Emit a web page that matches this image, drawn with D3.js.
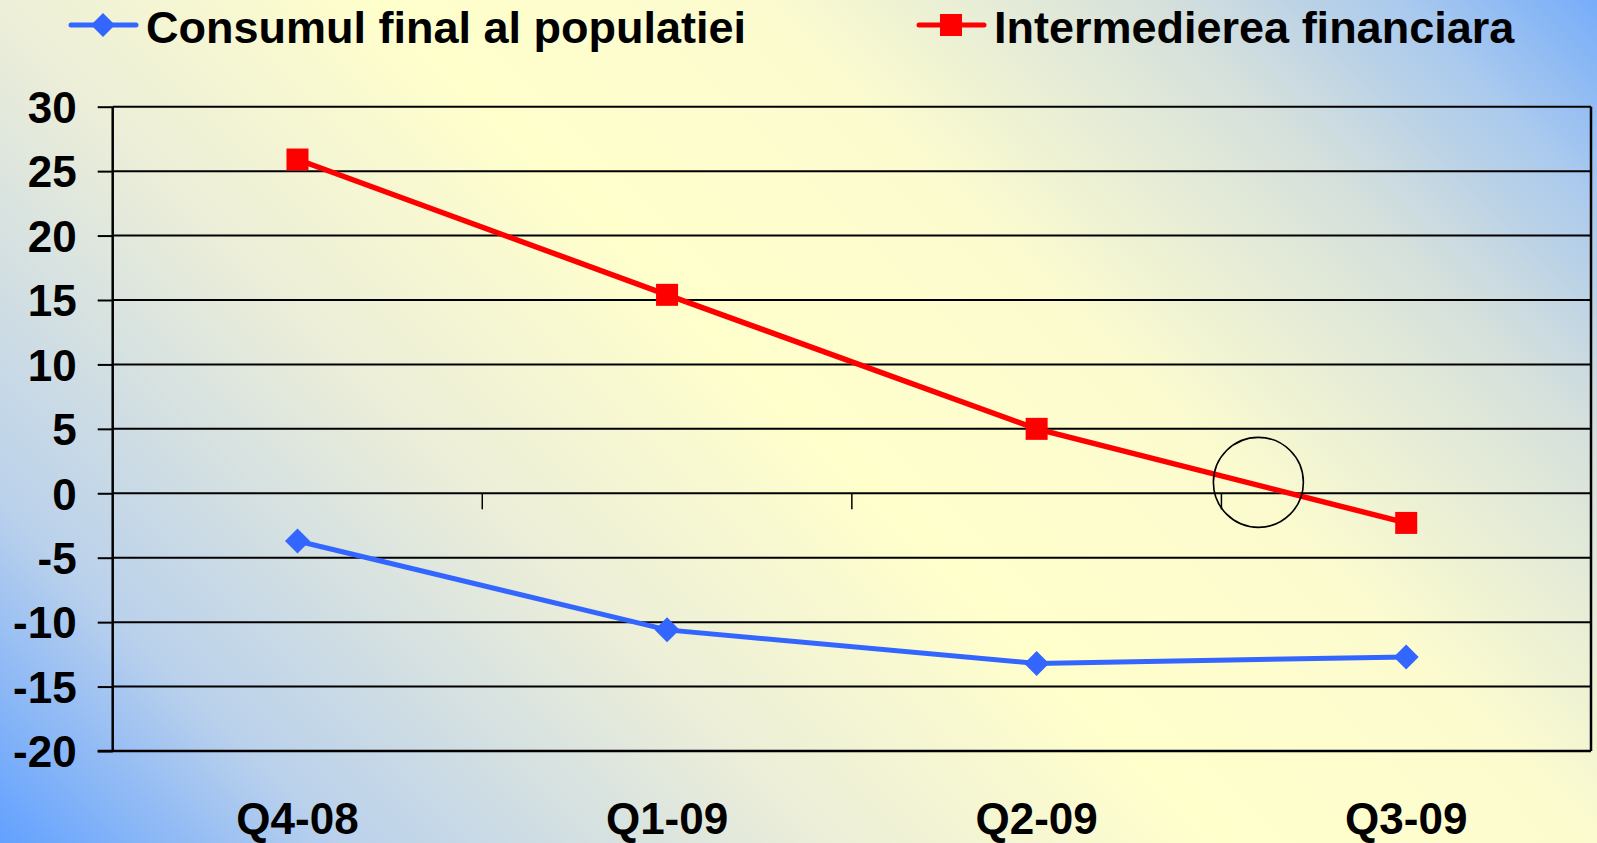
<!DOCTYPE html>
<html>
<head>
<meta charset="utf-8">
<script src="https://cdn.jsdelivr.net/npm/d3@7"></script>
<style>
  html, body { margin: 0; padding: 0; overflow: hidden; }
  svg { display: block; }
  text { font-family: "Liberation Sans", Arial, sans-serif; font-weight: bold; fill: #000; }
</style>
</head>
<body>
<script>
// ---- data ----
const categories = ["Q4-08", "Q1-09", "Q2-09", "Q3-09"];
const consumValues = [-3.7, -10.6, -13.2, -12.7];
const intermValues = [25.9, 15.4, 5.0, -2.3];
const seriesNames = ["Consumul final al populatiei", "Intermedierea financiara"];
const yTicks = [-20, -15, -10, -5, 0, 5, 10, 15, 20, 25, 30];
// annotation circle: between Q2-09 and Q3-09, near zero line
const annotation = { after: "Q2-09", frac: 0.6, value: 0.85 };

(function () {
// ---- layout ----
const W = 1597, H = 843;
const pLeft = 112.7, pRight = 1591, pTop = 106.7, pBottom = 751;

const svg = d3.select("body").append("svg").attr("width", W).attr("height", H);

// background gradient
const defs = svg.append("defs");
const grad = defs.append("linearGradient").attr("id", "bg")
  .attr("gradientUnits", "userSpaceOnUse")
  .attr("x1", 188.5).attr("y1", 1031.5).attr("x2", 1408.5).attr("y2", -188.5);
[[0, "#62a1ff"], [0.14, "#bad1ec"], [0.34, "#eceed8"], [0.5, "#ffffcc"],
 [0.66, "#fbfbcf"], [0.82, "#d5e0dc"], [0.92, "#a9c9ee"], [1, "#76adf9"]]
  .forEach(([o, c]) => grad.append("stop").attr("offset", o).attr("stop-color", c));
svg.append("rect").attr("width", W).attr("height", H).attr("fill", "url(#bg)");

const x = d3.scaleBand().domain(categories).range([pLeft, pRight]).paddingInner(0).paddingOuter(0);
const y = d3.scaleLinear().domain([-20, 30]).range([pBottom, pTop]);
const cx = c => x(c) + x.bandwidth() / 2;

// gridlines + y ticks
const yAxis = d3.axisLeft(y).tickValues(yTicks).tickSize(15).tickPadding(21).tickFormat(d => String(d));
const gy = svg.append("g").attr("transform", `translate(${pLeft},0)`).call(yAxis);
gy.select(".domain").remove();
gy.selectAll(".tick line").attr("stroke", "#000").attr("stroke-width", 2);
gy.selectAll(".tick text").attr("font-size", 44).attr("fill", "#000")
  .attr("font-family", '"Liberation Sans", Arial, sans-serif').attr("font-weight", "bold")
  .attr("dy", "0.36em");
svg.append("g").selectAll("line").data(yTicks).join("line")
  .attr("x1", pLeft).attr("x2", pRight)
  .attr("y1", d => y(d)).attr("y2", d => y(d))
  .attr("stroke", "#000").attr("stroke-width", 2);

// plot borders
svg.append("line").attr("x1", pLeft).attr("x2", pLeft).attr("y1", pTop).attr("y2", pBottom)
  .attr("stroke", "#000").attr("stroke-width", 2.5);
svg.append("line").attr("x1", pRight).attr("x2", pRight).attr("y1", pTop).attr("y2", pBottom)
  .attr("stroke", "#000").attr("stroke-width", 2.5);
svg.append("line").attr("x1", pLeft - 15).attr("x2", pRight).attr("y1", pBottom).attr("y2", pBottom)
  .attr("stroke", "#000").attr("stroke-width", 2.5);

// category axis ticks on zero line (at band boundaries)
const boundaries = categories.slice(1).map(c => x(c));
svg.append("g").selectAll("line").data(boundaries).join("line")
  .attr("x1", d => d).attr("x2", d => d)
  .attr("y1", y(0)).attr("y2", y(0) + 16)
  .attr("stroke", "#000").attr("stroke-width", 1.5);

// category labels
svg.append("g").selectAll("text").data(categories).join("text")
  .attr("x", d => cx(d)).attr("y", 834)
  .attr("text-anchor", "middle").attr("font-size", 44)
  .text(d => d);

// lines
const line = d3.line().x((d, i) => cx(categories[i])).y(d => y(d));
svg.append("path").datum(consumValues).attr("d", line)
  .attr("fill", "none").attr("stroke", "#3366ff").attr("stroke-width", 5);
svg.append("path").datum(intermValues).attr("d", line)
  .attr("fill", "none").attr("stroke", "#ff0000").attr("stroke-width", 5.5);

const diamond = (px, py, r) => `M${px},${py - r}L${px + r},${py}L${px},${py + r}L${px - r},${py}Z`;
svg.append("g").selectAll("path").data(consumValues).join("path")
  .attr("d", (d, i) => diamond(cx(categories[i]), y(d), 12.5))
  .attr("fill", "#3366ff");
svg.append("g").selectAll("rect").data(intermValues).join("rect")
  .attr("x", (d, i) => cx(categories[i]) - 11).attr("y", d => y(d) - 11)
  .attr("width", 22).attr("height", 22).attr("fill", "#ff0000");

// annotation circle
const ai = categories.indexOf(annotation.after);
svg.append("circle")
  .attr("cx", cx(categories[ai]) + x.step() * annotation.frac)
  .attr("cy", y(annotation.value)).attr("r", 45)
  .attr("fill", "none").attr("stroke", "#000").attr("stroke-width", 1.6);

// legend
const legendItems = [
  { name: seriesNames[0], color: "#3366ff", shape: "diamond", x0: 71, tx: 146 },
  { name: seriesNames[1], color: "#ff0000", shape: "square", x0: 919, tx: 994 }
];
const lg = svg.append("g");
legendItems.forEach(it => {
  const ly = 25;
  lg.append("line").attr("x1", it.x0).attr("x2", it.x0 + 65).attr("y1", ly).attr("y2", ly)
    .attr("stroke", it.color).attr("stroke-width", 5).attr("stroke-linecap", "round");
  const mx = it.x0 + 32;
  if (it.shape === "diamond") {
    lg.append("path").attr("d", diamond(mx, ly, 12)).attr("fill", it.color);
  } else {
    lg.append("rect").attr("x", mx - 11).attr("y", ly - 11).attr("width", 22).attr("height", 22).attr("fill", it.color);
  }
  lg.append("text").attr("x", it.tx).attr("y", 43).attr("font-size", 45).text(it.name);
});
})();
</script>
</body>
</html>
